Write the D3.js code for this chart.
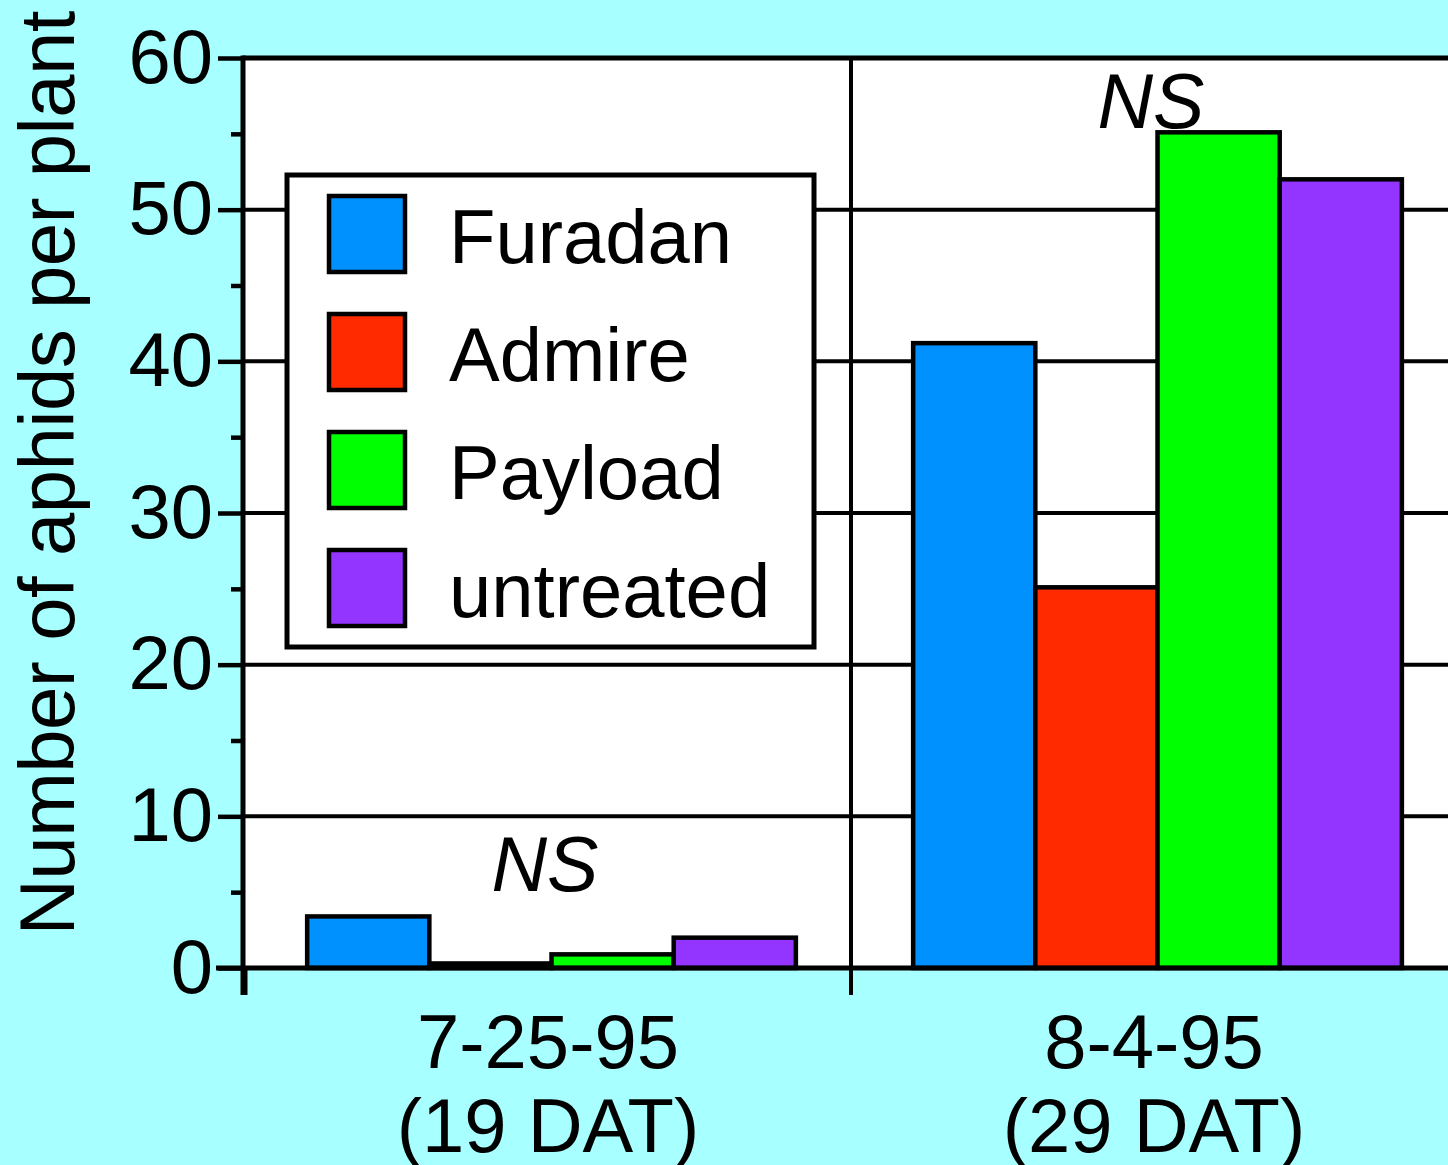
<!DOCTYPE html>
<html>
<head>
<meta charset="utf-8">
<script src="https://cdn.jsdelivr.net/npm/d3@7"></script>
<style>
  body { margin: 0; background: #a8ffff; }
  svg { display: block; }
  text { font-family: "Liberation Sans", Arial, Helvetica, sans-serif; fill: #000; }
</style>
</head>
<body>
<div id="chart"></div>
<script>
// data
const dates = ["7-25-95", "8-4-95"];
const datLabels = ["(19 DAT)", "(29 DAT)"];
const treatments = ["Furadan", "Admire", "Payload", "untreated"];
const furadan = [3.4, 41.2];
const admire = [0.3, 25.1];
const payload = [0.9, 55.1];
const untreated = [2.0, 52.0];
const nsLevel = [5.1, 55.4]; // where the NS notes sit
const majorTicks = [0, 10, 20, 30, 40, 50, 60];
const minorTicks = [5, 15, 25, 35, 45, 55];

const colors = ["#0091ff", "#ff2a00", "#00ff00", "#9334ff"];

const width = 1448, height = 1165;
const margin = ({ top: 58, right: -9, bottom: 197, left: 245 });

const seriesVals = [furadan, admire, payload, untreated];
const data = [];
dates.forEach((d, i) => {
    treatments.forEach((t, j) => {
        data.push({ date: d, treat: t, value: seriesVals[j][i] });
    });
});

const svg = d3.select("#chart")
    .append("svg")
    .attr("width", width)
    .attr("height", height);

svg.append("rect")
    .attr("width", width).attr("height", height)
    .attr("fill", "#a8ffff");

let x = d3.scaleBand()
    .domain(dates)
    .range([margin.left, width - margin.right])
    .padding(0);

let xs = d3.scaleBand()
    .domain(treatments)
    .range([0, x.bandwidth()])
    .paddingInner(0)
    .paddingOuter(0.48)
    .align(0.53);

let y = d3.scaleLinear()
    .domain([0, 60])
    .range([height - margin.bottom, margin.top]);

// white plotting area
svg.append("rect")
    .attr("x", margin.left)
    .attr("y", y(60))
    .attr("width", width - margin.left)
    .attr("height", y(0) - y(60))
    .attr("fill", "#fff");

// gridlines
svg.append("g")
    .selectAll("line")
    .data(majorTicks.filter(v => v > 0 && v < 60))
    .join("line")
    .attr("x1", margin.left).attr("x2", width)
    .attr("y1", d => y(d)).attr("y2", d => y(d))
    .attr("stroke", "#000").attr("stroke-width", 4);

// top border
svg.append("line")
    .attr("x1", margin.left - 2).attr("x2", width)
    .attr("y1", y(60)).attr("y2", y(60))
    .attr("stroke", "#000").attr("stroke-width", 5);

// group divider + bottom ticks
svg.append("g")
    .selectAll("line")
    .data(dates)
    .join("line")
    .attr("x1", d => x(d)).attr("x2", d => x(d))
    .attr("y1", (d, i) => i == 0 ? y(0) : y(60))
    .attr("y2", y(0) + 27)
    .attr("stroke", "#000")
    .attr("stroke-width", (d, i) => i == 0 ? 5 : 4);

// bars
let bar = svg.selectAll(".bar")
    .data(data)
    .join("rect")
    .attr("class", "bar")
    .attr("x", d => x(d.date) + xs(d.treat))
    .attr("width", xs.bandwidth())
    .attr("y", d => y(d.value))
    .attr("height", d => y(0) - y(d.value))
    .attr("fill", d => colors[treatments.indexOf(d.treat)])
    .attr("stroke", "#000")
    .attr("stroke-width", 4.5);

// NS notes
svg.append("g")
    .selectAll("text")
    .data(dates)
    .join("text")
    .attr("x", d => x(d) + x.bandwidth() / 2 - 3)
    .attr("y", (d, i) => y(nsLevel[i]))
    .attr("text-anchor", "middle")
    .attr("font-style", "italic")
    .attr("font-size", 77)
    .text("NS");

// y axis
const yAxis = svg.append("g")
    .attr("transform", `translate(${margin.left - 2},0)`)
    .call(d3.axisLeft(y).tickValues(majorTicks).tickSize(25).tickSizeOuter(0).tickPadding(5));
yAxis.select(".domain").remove();
yAxis.selectAll("line").attr("stroke-width", 4.5);
yAxis.selectAll("text").attr("font-size", 76).attr("font-family", null);

const yMinor = svg.append("g")
    .attr("transform", `translate(${margin.left - 2},0)`)
    .call(d3.axisLeft(y).tickValues(minorTicks).tickSize(12).tickFormat(""));
yMinor.select(".domain").remove();
yMinor.selectAll("line").attr("stroke-width", 4.5);

// axis lines
svg.append("line")
    .attr("x1", margin.left - 2).attr("x2", margin.left - 2)
    .attr("y1", y(60) - 2.5).attr("y2", y(0) + 27)
    .attr("stroke", "#000").attr("stroke-width", 5);
svg.append("line")
    .attr("x1", margin.left - 29).attr("x2", width)
    .attr("y1", y(0)).attr("y2", y(0))
    .attr("stroke", "#000").attr("stroke-width", 5);

// x labels
const xl = svg.append("g")
    .selectAll("text")
    .data(dates)
    .join("text")
    .attr("x", d => x(d) + x.bandwidth() / 2)
    .attr("y", y(0) + 100)
    .attr("text-anchor", "middle")
    .attr("font-size", 76);
xl.append("tspan").text(d => d);
xl.append("tspan")
    .attr("x", d => x(d) + x.bandwidth() / 2)
    .attr("dy", 84)
    .text((d, i) => datLabels[i]);

// y title
svg.append("text")
    .attr("transform", `translate(74,${(y(0) + y(60)) / 2 - 40}) rotate(-90)`)
    .attr("text-anchor", "middle")
    .attr("font-size", 78)
    .attr("textLength", 925)
    .attr("lengthAdjust", "spacing")
    .text("Number of aphids per plant");

// legend
const legend = svg.append("g").attr("transform", "translate(287,175)");
legend.append("rect")
    .attr("width", 527).attr("height", 472)
    .attr("fill", "#fff").attr("stroke", "#000").attr("stroke-width", 5);
const item = legend.selectAll(".item")
    .data(treatments)
    .join("g")
    .attr("class", "item")
    .attr("transform", (d, i) => `translate(0,${i * 118})`);
item.append("rect")
    .attr("x", 42).attr("y", 21)
    .attr("width", 76).attr("height", 76)
    .attr("fill", (d, i) => colors[i])
    .attr("stroke", "#000").attr("stroke-width", 4.5);
item.append("text")
    .attr("x", 162).attr("y", 88)
    .attr("font-size", 76)
    .text(d => d);
</script>
</body>
</html>
